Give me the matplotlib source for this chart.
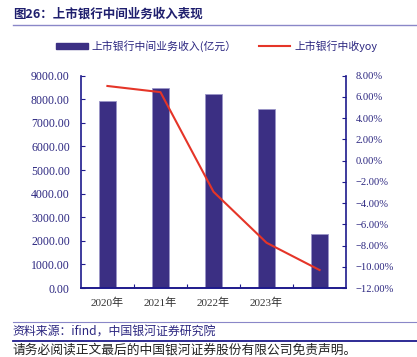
import matplotlib
matplotlib.use("Agg")
import matplotlib.pyplot as plt
from matplotlib.lines import Line2D
from matplotlib.patches import Patch
from matplotlib.ticker import FuncFormatter, MultipleLocator

plt.rcParams['font.family'] = ['Liberation Serif', 'Noto Sans CJK SC', 'DejaVu Sans']

categories = ["2020年", "2021年", "2022年", "2023年", ""]
income = [7940, 8460, 8210, 7575, 2290]          # 亿元
yoy = [7.03, 6.45, -2.93, -7.73, -10.3]          # %

NAVY = "#1E1A8C"
BAR = "#3B2F83"
RED = "#E53528"
TXT = "#2B2680"

fig = plt.figure(figsize=(4.17, 3.57), dpi=100)
ax = fig.add_axes([0.194, 0.193, 0.636, 0.595])
ax2 = ax.twinx()

x = list(range(len(categories)))
ax.bar(x, income, width=0.31, color=BAR, edgecolor="#9A95C8", linewidth=0.6, zorder=2)
ax2.plot(x, yoy, color=RED, linewidth=1.5, zorder=3)

ax.set_xlim(-0.5, 4.5)
ax.set_ylim(0, 9000)
ax.yaxis.set_major_locator(MultipleLocator(1000))
ax.yaxis.set_major_formatter(FuncFormatter(lambda v, p: f"{v:.2f}"))
ax2.set_ylim(-12, 8)
ax2.yaxis.set_major_locator(MultipleLocator(2))
ax2.yaxis.set_major_formatter(FuncFormatter(lambda v, p: f"{v:.2f}%".replace("-", "\u2212")))

ax.set_xticks([i + 0.5 for i in x[:-1]])
ax.set_xticklabels([])
ax.set_xticks(x, minor=True)
ax.set_xticklabels(categories, minor=True, fontsize=8, color="#333333",
                   family=['Liberation Serif', 'Noto Sans CJK SC'])
ax.tick_params(axis="x", which="major", direction="in", length=3, color=NAVY, width=0.8)
ax.tick_params(axis="x", which="minor", length=0, pad=7)

ax.tick_params(axis="y", direction="in", length=3, color=NAVY, width=0.8,
               labelsize=8.5, labelcolor=TXT, pad=8)
ax2.tick_params(axis="y", direction="in", length=3, color=NAVY, width=0.8,
                labelsize=7.6, labelcolor=TXT, pad=7)

for a in (ax, ax2):
    a.spines["top"].set_visible(False)
    for s in ("left", "right", "bottom"):
        a.spines[s].set_color(NAVY)
        a.spines[s].set_linewidth(1.2)
ax.spines["right"].set_visible(False)
ax2.spines["left"].set_visible(False)

handles = [Patch(facecolor=BAR, edgecolor=BAR),
           Line2D([0], [0], color=RED, linewidth=1.5)]
labels = ["上市银行中间业务收入(亿元）", "上市银行中收yoy"]
fig.legend(handles, labels, loc="center", bbox_to_anchor=(0.52, 0.871), ncol=2,
           frameon=False, handlelength=2.9, handleheight=0.45,
           columnspacing=2.0, handletextpad=0.4,
           prop={'family': ['Noto Sans CJK SC'], 'size': 7.8},
           labelcolor="#2B2680")

fig.text(0.031, 1 - 14 / 357, "图26：上市银行中间业务收入表现", fontsize=9,
         fontweight="bold", color="#1F1F6E", va="center", ha="left",
         family=['Noto Sans CJK SC'])
fig.add_artist(Line2D([0.031, 1.0], [1 - 24.5 / 357] * 2, color="#8A87C8", linewidth=1.0))

fig.add_artist(Line2D([0.031, 1.0], [1 - 321.7 / 357] * 2, color="#8A87C8", linewidth=0.8))
fig.text(0.031, 1 - 331 / 357, "资料来源：ifind，中国银河证券研究院", fontsize=8.6,
         style="italic", color=TXT, va="center", ha="left",
         family=['Noto Sans CJK SC'])
fig.add_artist(Line2D([0.031, 1.0], [1 - 341 / 357] * 2, color=NAVY, linewidth=1.3))
fig.text(0.031, 1 - 350.5 / 357, "请务必阅读正文最后的中国银河证券股份有限公司免责声明。",
         fontsize=9.2, color="#222222", va="center", ha="left",
         family=['Noto Sans CJK SC'])

fig.savefig("out.png", dpi=100)
